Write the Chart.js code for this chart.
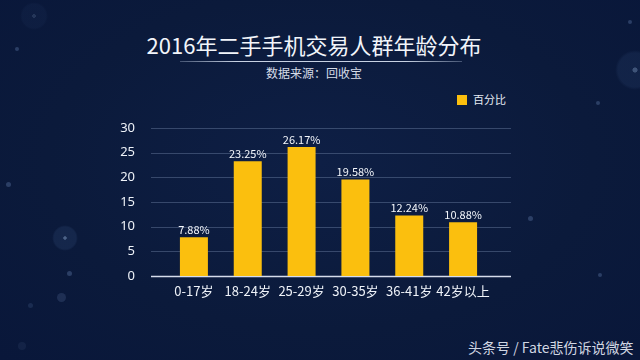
<!DOCTYPE html>
<html><head><meta charset="utf-8">
<script src="https://cdn.jsdelivr.net/npm/chart.js@4/dist/chart.umd.min.js"></script>
<style>
html,body{margin:0;padding:0;}
body{width:640px;height:360px;overflow:hidden;position:relative;background:#0b1a3b;font-family:"Noto Sans CJK SC","Noto Sans",sans-serif;}
#bg{position:absolute;left:0;top:0;width:640px;height:360px;background:radial-gradient(ellipse at 50% 45%, #0e1f45 0%, #0b1a3b 60%, #09173a 100%);}
.dot{position:absolute;border-radius:50%;background:rgba(120,150,200,0.3);}
.ring{position:absolute;border-radius:50%;background:radial-gradient(circle, rgba(140,170,210,0.5) 0 8%, rgba(60,90,140,0.2) 10% 60%, rgba(60,90,140,0) 70%);}
#title{position:absolute;left:0;width:628px;top:29px;text-align:center;color:#f2f5fa;font-size:22px;line-height:30px;}
#rule{position:absolute;left:180px;width:282px;top:61px;height:1px;background:linear-gradient(90deg,rgba(200,215,240,0.3),rgba(220,230,245,0.9) 20%,rgba(220,230,245,0.9) 80%,rgba(200,215,240,0.3));}
#sub{position:absolute;left:0;width:628px;top:65px;text-align:center;color:#d6dce8;font-size:12px;line-height:16px;}
#leg{position:absolute;left:457px;top:92px;color:#e6ebf3;font-size:11px;line-height:14px;}
#leg span.sw{display:inline-block;width:10px;height:10px;background:#fbbf0e;vertical-align:-1px;margin-right:6px;}
#wm{position:absolute;left:468px;top:338px;color:#d0d6e2;font-size:14px;line-height:18px;}
#c{position:absolute;left:0;top:0;}
</style></head>
<body>
<div id="bg"></div>
<div class="ring" style="left:20px;top:2px;width:28px;height:28px;opacity:0.4"></div>
<div class="dot" style="left:15px;top:47px;width:4px;height:4px"></div>
<div class="dot" style="left:6px;top:182px;width:5px;height:5px"></div>
<div class="ring" style="left:52px;top:225px;width:26px;height:26px"></div>
<div class="dot" style="left:67px;top:271px;width:5px;height:5px"></div>
<div class="dot" style="left:57px;top:293px;width:9px;height:9px;opacity:0.6"></div>
<div class="dot" style="left:28px;top:303px;width:5px;height:5px;opacity:0.5"></div>
<div class="dot" style="left:18px;top:342px;width:8px;height:8px;opacity:0.3"></div>
<div class="ring" style="left:615px;top:50px;width:40px;height:40px;opacity:0.8"></div>
<div class="dot" style="left:596px;top:101px;width:4px;height:4px"></div>
<div class="dot" style="left:628px;top:20px;width:4px;height:4px"></div>
<div class="dot" style="left:528px;top:216px;width:5px;height:5px"></div>
<div class="dot" style="left:598px;top:273px;width:4px;height:4px"></div>
<div id="title">2016年二手手机交易人群年龄分布</div>
<div id="rule"></div>
<div id="sub">数据来源：回收宝</div>
<div id="leg"><span class="sw"></span>百分比</div>
<div id="wm">头条号 / Fate悲伤诉说微笑</div>
<canvas id="c" width="640" height="360"></canvas>
<script>
const categories = ['0-17岁','18-24岁','25-29岁','30-35岁','36-41岁','42岁以上'];
const seriesName = '百分比';
const values = [7.88, 23.25, 26.17, 19.58, 12.24, 10.88];
const yTicks = [0, 5, 10, 15, 20, 25, 30];

const gridPlugin = {
  id: 'extGrid',
  beforeDatasetsDraw(chart) {
    const ctx = chart.ctx, y = chart.scales.y, a = chart.chartArea;
    const x0 = a.left - 16, x1 = a.right + 21;
    ctx.save();
    yTicks.forEach(v => {
      const py = Math.round(y.getPixelForValue(v)) + 0.5;
      ctx.beginPath();
      if (v === 0) { ctx.strokeStyle = 'rgba(225,232,245,0.95)'; ctx.lineWidth = 1.5; }
      else { ctx.strokeStyle = 'rgba(120,140,175,0.4)'; ctx.lineWidth = 1; }
      ctx.moveTo(x0, py); ctx.lineTo(x1, py); ctx.stroke();
    });
    ctx.restore();
  },
  afterDatasetsDraw(chart) {
    const ctx = chart.ctx;
    const meta = chart.getDatasetMeta(0);
    ctx.save();
    ctx.fillStyle = '#f3f6fb';
    ctx.font = '11px "Noto Sans CJK SC", "Noto Sans", sans-serif';
    ctx.textAlign = 'center';
    ctx.textBaseline = 'bottom';
    meta.data.forEach((bar, i) => {
      ctx.fillText(values[i].toFixed(2) + '%', bar.x, bar.y - 2);
    });
    ctx.restore();
  }
};

new Chart(document.getElementById('c'), {
  type: 'bar',
  data: {
    labels: categories,
    datasets: [{
      label: seriesName,
      data: values,
      backgroundColor: '#fbbf0e',
      borderWidth: 0,
      barPercentage: 0.52,
      categoryPercentage: 1.0
    }]
  },
  options: {
    responsive: false,
    animation: false,
    devicePixelRatio: 1,
    layout: { padding: { left: 0, right: 150, top: 128, bottom: 0 } },
    plugins: { legend: { display: false }, tooltip: { enabled: false } },
    scales: {
      x: {
        grid: { display: false, drawTicks: false },
        border: { display: false },
        ticks: { autoSkip: false, color: '#eef2f8', font: { size: 13, family: '"Noto Sans CJK SC", "Noto Sans", sans-serif' }, padding: 7, maxRotation: 0, minRotation: 0 },
        afterFit(s) { s.height = 84; }
      },
      y: {
        min: 0, max: 30,
        grid: { display: false, drawTicks: false },
        border: { display: false },
        ticks: { stepSize: 5, color: '#eef2f8', font: { size: 13, family: '"Noto Sans", sans-serif' }, padding: 32 },
        afterFit(s) { s.width = 167; }
      }
    }
  },
  plugins: [gridPlugin]
});
</script>
</body></html>
